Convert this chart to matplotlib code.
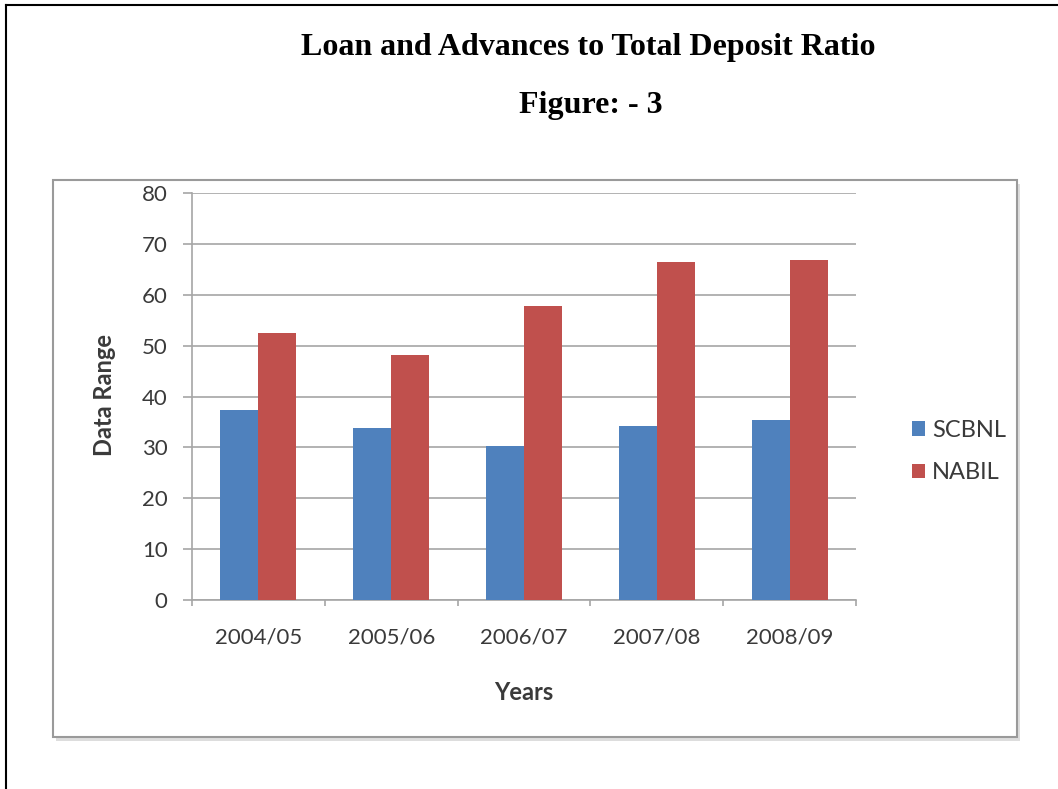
# Loan and advances to total deposit ratio - grouped bar chart
import numpy as np
import matplotlib.pyplot as plt
from matplotlib.patches import Rectangle
from matplotlib.lines import Line2D

# Data
years = ['2004/05', '2005/06', '2006/07', '2007/08', '2008/09']
scbnl = [37.4, 33.9, 30.2, 34.3, 35.3]
nabil = [52.5, 48.1, 57.7, 66.5, 66.9]
y_ticks = [0, 10, 20, 30, 40, 50, 60, 70, 80]

blue = '#4F81BD'
red = '#C0504D'
grid_col = '#A6A6A6'
txt_col = '#3A3A3A'
font_ui = ['Lato', 'DejaVu Sans']

fig = plt.figure(figsize=(10.58, 7.89), dpi=100)

# outer page frame (left + top)
fig.add_artist(Line2D([0.006, 0.006], [0.0, 0.994], color='black', lw=1.5))
fig.add_artist(Line2D([0.006, 1.0], [0.994, 0.994], color='black', lw=1.5))

# headings
fig.text(0.556, 0.930, 'Loan and Advances to Total Deposit Ratio', ha='center', va='baseline',
         family='Liberation Serif', fontweight='bold', fontsize=23)
fig.text(0.558, 0.857, 'Figure: - 3', ha='center', va='baseline',
         family='Liberation Serif', fontweight='bold', fontsize=23)

# chart box with light shadow
fig.add_artist(Rectangle((0.053, 0.061), 0.911, 0.706, transform=fig.transFigure,
                         facecolor='#DDDDDD', edgecolor='none', zorder=0))
fig.add_artist(Rectangle((0.050, 0.066), 0.911, 0.706, transform=fig.transFigure,
                         facecolor='white', edgecolor='#9A9A9A', lw=1.5, zorder=0))

ax = fig.add_axes([0.1815, 0.2395, 0.6276, 0.5159])
ax.set_facecolor('none')

x = np.arange(len(years))
w = 1 / 3.5
ax.bar(x - w / 2, scbnl, width=w, color=blue, label='SCBNL', zorder=3)
ax.bar(x + w / 2, nabil, width=w, color=red, label='NABIL', zorder=3)

ax.set_xlim(-0.5, len(years) - 0.5)
ax.set_ylim(0, 80)
ax.set_yticks(y_ticks)
ax.set_yticklabels([str(v) for v in y_ticks], family=font_ui, fontsize=16, color=txt_col)
ax.yaxis.grid(True, color=grid_col, lw=1.2, zorder=0)

ax.set_xticks(x)
ax.set_xticklabels(years, family=font_ui, fontsize=16, color=txt_col)
ax.set_xticks(np.arange(-0.5, len(years)), minor=True)
ax.tick_params(axis='x', which='major', length=0, pad=20)
ax.tick_params(axis='x', which='minor', length=4.5, color=grid_col, width=1.2)
ax.tick_params(axis='y', length=6.5, color=grid_col, width=1.2, pad=11)

for side in ['top', 'right']:
    ax.spines[side].set_visible(False)
for side in ['left', 'bottom']:
    ax.spines[side].set_color(grid_col)
    ax.spines[side].set_linewidth(1.2)

ax.set_ylabel('Data Range', family=font_ui, fontsize=17, fontweight='bold', color=txt_col, va='center')
ax.yaxis.set_label_coords(-0.1325, 0.504)
ax.set_xlabel('Years', family=font_ui, fontsize=17, fontweight='bold', color=txt_col, va='center')
ax.xaxis.set_label_coords(0.5, -0.226)

ax.legend(loc='center left', bbox_to_anchor=(0.8507, 0.4278), bbox_transform=fig.transFigure,
          frameon=False, borderpad=0, handlelength=0.55, handleheight=0.55, handletextpad=0.3,
          labelspacing=0.9, prop={'family': font_ui, 'size': 17}, labelcolor=txt_col)

fig.savefig('out.png', dpi=100)
